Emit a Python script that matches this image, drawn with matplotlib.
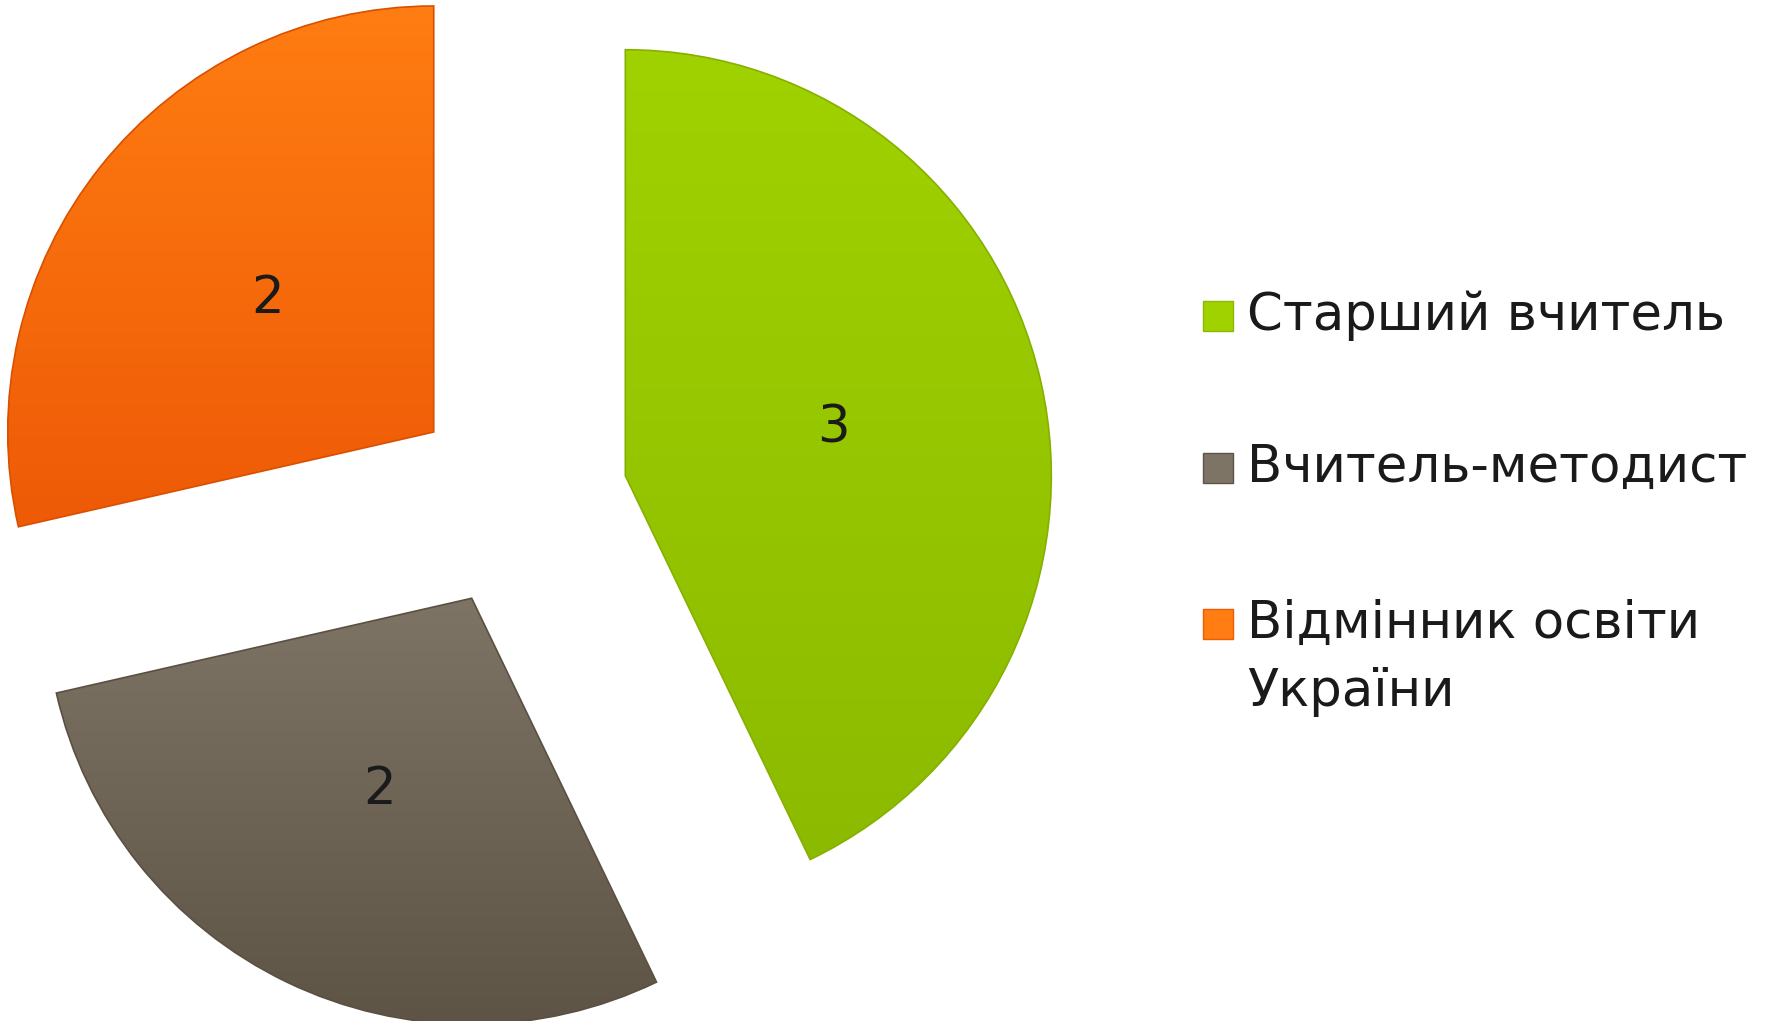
import numpy as np
import matplotlib
matplotlib.use("Agg")
import matplotlib.pyplot as plt
from matplotlib.colors import LinearSegmentedColormap
from matplotlib.patches import Rectangle

# ---- data ----
categories = ["Старший вчитель", "Вчитель-методист", "Відмінник освіти\nУкраїни"]
values = [3, 2, 2]
top_colors = ["#A0D200", "#7E7465", "#FF7D12"]
bottom_colors = ["#8CBA00", "#5E5446", "#EE5A06"]
edge_colors = ["#86B000", "#5A5042", "#D85000"]

W, H = 1772, 1021
fig = plt.figure(figsize=(W / 100, H / 100), dpi=100)
ax = fig.add_axes([0, 0, 1, 1])
FONT = ["DejaVu Sans"]
FS = 37

cx, cy, R = 519, 521, 426
wedges, texts, autotexts = ax.pie(
    values, center=(cx, cy), radius=R, startangle=90, counterclock=False,
    explode=[0.256 * R] * 3, autopct=lambda p: f"{p * sum(values) / 100:.0f}",
    pctdistance=0.5, colors=top_colors,
    wedgeprops=dict(linewidth=1.2),
    textprops=dict(fontsize=FS, color="#1a1a1a", family=FONT),
)
ax.set_xlim(0, W)
ax.set_ylim(0, H)
ax.set_aspect("equal")
ax.axis("off")

for w, tc, bc, ec in zip(wedges, top_colors, bottom_colors, edge_colors):
    bb = w.get_path().get_extents(w.get_transform())
    inv = ax.transData.inverted()
    (x0, y0), (x1, y1) = inv.transform([[bb.x0, bb.y0], [bb.x1, bb.y1]])
    cmap = LinearSegmentedColormap.from_list("g", [bc, tc])
    grad = np.linspace(0, 1, 256).reshape(-1, 1)
    im = ax.imshow(grad, cmap=cmap, extent=[x0, x1, y0, y1], origin="lower",
                   aspect="auto", zorder=1)
    im.set_clip_path(w)
    w.set_facecolor("none")
    w.set_edgecolor(ec)
    w.set_zorder(2)

for t in autotexts:
    t.set_zorder(3)

ax.set_xlim(0, W)
ax.set_ylim(0, H)

# ---- legend ----
leg_y = [H - 316, H - 468, H - 624]
sq = 30
for lab, tc, bc, yy in zip(categories, top_colors, bottom_colors, leg_y):
    ax.add_patch(Rectangle((1203, yy - sq / 2), sq, sq, facecolor=tc,
                           edgecolor=bc, linewidth=1, zorder=3))
    parts = lab.split("\n")
    ax.text(1247, yy, parts[0], fontsize=FS, family=FONT,
            va="center", ha="left", color="#1a1a1a")
    if len(parts) > 1:
        ax.text(1247, yy - 68, parts[1], fontsize=FS, family=FONT,
                va="center", ha="left", color="#1a1a1a")

fig.savefig("out.png", dpi=100)
